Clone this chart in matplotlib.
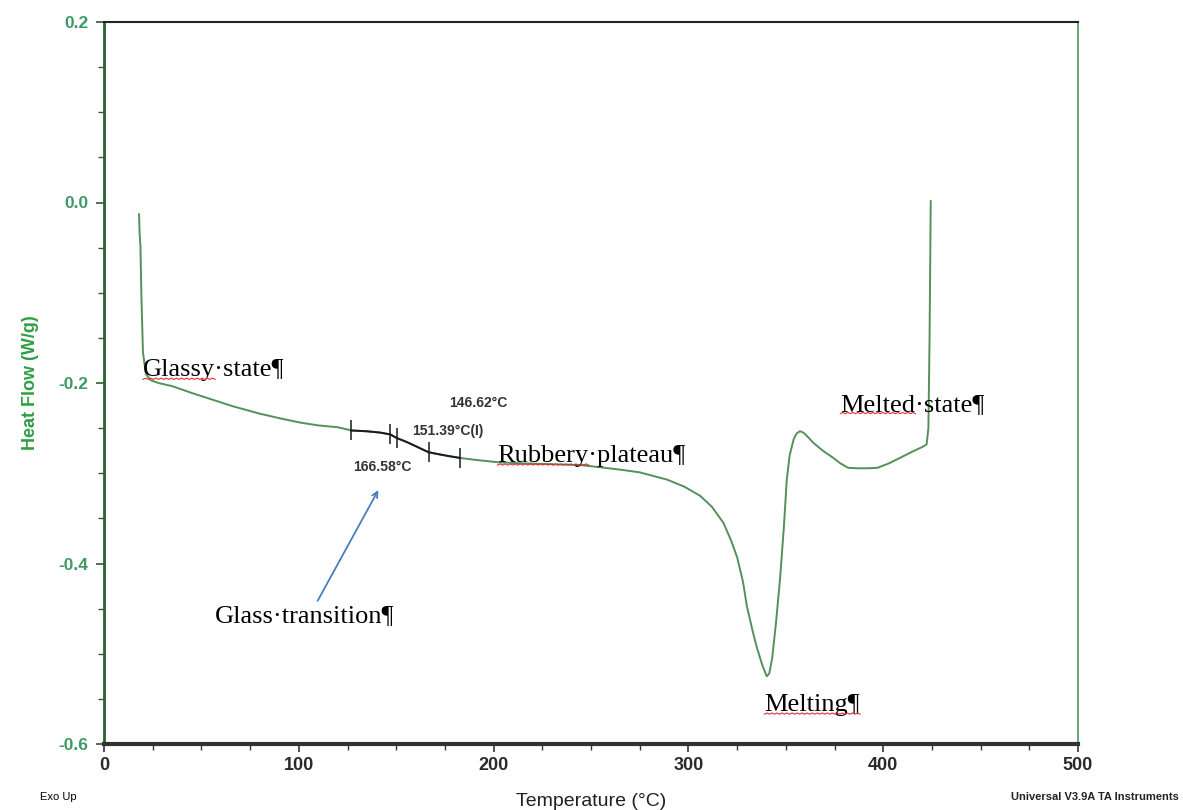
import numpy as np
import matplotlib
matplotlib.use("Agg")
import matplotlib.pyplot as plt
from matplotlib.ticker import MultipleLocator

# ---- data ----
temp = [18.0, 18.3, 18.7, 19.2, 20.0, 21.5, 24, 28, 35, 45, 55, 66, 80, 90, 100.6, 110, 120,
        127, 135, 142, 147, 150.3, 155, 160, 166.6, 172, 177, 182.7,
        190, 203, 215, 230, 245, 255, 265, 275, 289, 298, 306, 312, 318, 322, 325, 328, 330,
        333, 335, 338, 340.2, 341.5, 343, 345, 347, 349, 350.5, 352, 354, 355.5, 357.3, 359,
        361, 364, 369, 374.4, 378, 382, 387, 392, 397, 403, 408.6, 415, 420, 422.3, 423.2,
        423.8, 424.2, 424.4]
heat_flow = [-0.013, -0.035, -0.048, -0.104, -0.166, -0.19, -0.197, -0.200, -0.2035, -0.211,
             -0.218, -0.2257, -0.234, -0.239, -0.2438, -0.247, -0.249,
             -0.2526, -0.2535, -0.255, -0.257, -0.261, -0.265, -0.270, -0.2767, -0.279, -0.281,
             -0.283,
             -0.285, -0.288, -0.289, -0.290, -0.291, -0.2935, -0.296, -0.299, -0.307, -0.315,
             -0.325, -0.337, -0.355, -0.375, -0.393, -0.420, -0.447, -0.475, -0.492, -0.513,
             -0.525, -0.522, -0.505, -0.465, -0.418, -0.36, -0.307, -0.28, -0.2626, -0.256,
             -0.2534, -0.255, -0.259, -0.266, -0.275, -0.283, -0.289, -0.294, -0.2945, -0.2945,
             -0.294, -0.289, -0.283, -0.276, -0.271, -0.268, -0.25, -0.15, -0.05, 0.0015]

tg_marks_x = [127, 147, 150.3, 166.6, 182.7]
tg_marks_y = [-0.2526, -0.257, -0.261, -0.2767, -0.283]

x_ticks = [0, 100, 200, 300, 400, 500]
y_ticks = [-0.6, -0.4, -0.2, 0.0, 0.2]

tg_labels = ["146.62°C", "151.39°C(I)", "166.58°C"]
region_labels = ["Glassy·state¶", "Rubbery·plateau¶", "Melted·state¶", "Melting¶",
                 "Glass·transition¶"]

# ---- figure ----
fig = plt.figure(figsize=(11.83, 8.10), dpi=100)
ax = fig.add_axes([104 / 1183, 66 / 810, 974 / 1183, 722 / 810])

line_green = "#55905a"
ax.plot(temp, heat_flow, color=line_green, lw=1.4, zorder=3)
# analysed glass transition segment in black
tx = np.array(temp); ty = np.array(heat_flow)
m = (tx >= tg_marks_x[0]) & (tx <= tg_marks_x[-1])
ax.plot(tx[m], ty[m], color="#1a1a1a", lw=1.4, zorder=4)
ax.plot(tg_marks_x, tg_marks_y, ls="none", marker="|", ms=14, mew=1.1, color="#1a1a1a",
        zorder=5)

ax.set_xlim(0, 500)
ax.set_ylim(-0.6, 0.2)
ax.set_xticks(x_ticks)
ax.set_yticks(y_ticks)
ax.set_yticklabels([f"{v:.1f}" for v in y_ticks])
ax.xaxis.set_minor_locator(MultipleLocator(25))
ax.yaxis.set_minor_locator(MultipleLocator(0.05))

tick_green = "#3f9a66"
ax.tick_params(axis="y", which="major", direction="out", length=6, width=1.2,
               colors="#2f5f2f", labelcolor=tick_green, labelsize=12.5, pad=5)
ax.tick_params(axis="y", which="minor", direction="out", length=4, width=1.0,
               colors="#2f5f2f")
ax.tick_params(axis="x", which="major", direction="out", length=6, width=1.2,
               colors="#333333", labelcolor="#2a2a2a", labelsize=13, pad=3)
ax.tick_params(axis="x", which="minor", direction="out", length=4, width=1.0,
               colors="#333333")
for lab in ax.get_yticklabels():
    lab.set_fontweight("bold")
    lab.set_family("Liberation Sans")
for lab in ax.get_xticklabels():
    lab.set_family("Liberation Sans")
    lab.set_fontweight("bold")

ax.spines["left"].set_color("#2f5f2f")
ax.spines["left"].set_linewidth(2.0)
ax.spines["top"].set_color("#222222")
ax.spines["top"].set_linewidth(1.5)
ax.spines["right"].set_color("#4a9a55")
ax.spines["right"].set_linewidth(1.2)
ax.spines["bottom"].set_color("#333333")
ax.spines["bottom"].set_linewidth(3.0)

ax.set_ylabel("Heat Flow (W/g)", color="#2e9e44", fontsize=13, fontweight="bold",
              family="Liberation Sans", labelpad=14)
ax.set_xlabel("Temperature (°C)", fontsize=14, family="Liberation Sans", labelpad=14,
              color="#222222")

fig.text(40 / 1183, 1 - 797 / 810, "Exo Up", fontsize=8, ha="left", va="center",
         family="Liberation Sans")
fig.text(1095 / 1183, 1 - 797 / 810, "Universal V3.9A TA Instruments", fontsize=8,
         ha="center", va="center", family="Liberation Sans", fontweight="bold", color="#222222")

# Tg annotations
ann_kw = dict(fontsize=10, family="Liberation Sans", fontweight="bold", color="#333333",
              zorder=6)
ax.text(192, -0.222, tg_labels[0], ha="center", va="center", **ann_kw)
ax.text(158, -0.253, tg_labels[1], ha="left", va="center", **ann_kw)
ax.text(128, -0.293, tg_labels[2], ha="left", va="center", **ann_kw)

# Region labels (serif, Word-like)
serif = dict(fontsize=19, family="Liberation Serif", color="black", zorder=6)
region_pos = [(20, -0.186), (202, -0.281), (378, -0.224), (339, -0.557), (57, -0.458)]
texts = []
for s, (x, y) in zip(region_labels, region_pos):
    texts.append(ax.text(x, y, s, ha="left", va="center", **serif))

# arrow for glass transition
ax.annotate("", xy=(141.5, -0.316), xytext=(109, -0.444),
            arrowprops=dict(arrowstyle="->", color="#4a7ebb", lw=1.3), zorder=6)

# red wavy spell-check underlines under the first word of some labels
fig.canvas.draw()
renderer = fig.canvas.get_renderer()
for t, s in zip(texts[:4], region_labels[:4]):
    word = s.split("·")[0]
    tmp = ax.text(*t.get_position(), word, ha="left", va="center", **serif)
    bb = tmp.get_window_extent(renderer)
    tmp.remove()
    full = t.get_window_extent(renderer)
    xs = np.linspace(bb.x0, bb.x1, int((bb.x1 - bb.x0) / 2.5) + 1)
    ys = full.y0 + 2 + 1.2 * (np.arange(len(xs)) % 2)
    pts = ax.transData.inverted().transform(np.column_stack([xs, ys]))
    ax.plot(pts[:, 0], pts[:, 1], color="#e03030", lw=0.8, zorder=6)

fig.savefig("out.png", dpi=100)
